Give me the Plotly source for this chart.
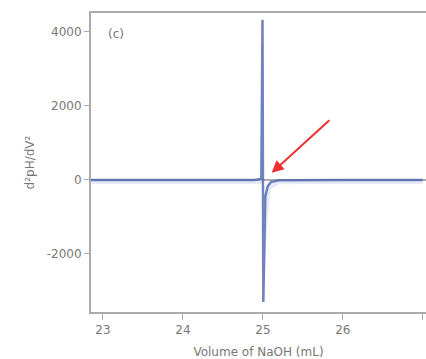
import plotly.graph_objects as go

# data
volume = [22.85, 23.0, 23.5, 24.0, 24.5, 24.9, 24.98, 24.995, 25.005, 25.03, 25.06, 25.1, 25.2, 25.5, 26.0, 26.5, 27.0]
d2 = [0, 0, 0, 0, 0, 0, 30, 4330, -3300, -450, -170, -60, -10, 0, 0, 0, 0]
band_low = [-110, -110, -110, -110, -110, -110, -110, -110, -3300, -2200, -1000, -250, -120, -110, -110, -110, -110]

x_ticks = [23, 24, 25, 26, 27]
y_ticks = [-2000, 0, 2000, 4000]
y_tick_text = ["-2000", "0", "2000", "4000"]

fig = go.Figure()
fig.add_trace(go.Scatter(x=volume, y=d2, mode="lines", line=dict(color="rgba(0,0,0,0)", width=0),
                         showlegend=False, hoverinfo="skip"))
fig.add_trace(go.Scatter(x=volume, y=band_low, mode="lines", line=dict(color="rgba(0,0,0,0)", width=0),
                         fill="tonexty", fillcolor="rgba(200,210,240,0.45)", showlegend=False, hoverinfo="skip"))
fig.add_trace(go.Scatter(x=volume, y=d2, mode="lines",
                         line=dict(color="rgba(80,100,175,0.8)", width=2.5), showlegend=False))

fig.add_annotation(x=25.11, y=190, ax=25.85, ay=1650, xref="x", yref="y", axref="x", ayref="y",
                   showarrow=True, arrowhead=2, arrowsize=1.2, arrowwidth=2, arrowcolor="#f03030", text="")
fig.add_annotation(x=0.045, y=0.96, xref="paper", yref="paper", text="(c)", showarrow=False,
                   font=dict(size=12, color="#777777"))

fig.update_layout(
    width=426, height=359,
    margin=dict(l=91, r=0, t=13, b=47, autoexpand=False),
    plot_bgcolor="white", paper_bgcolor="white",
    font=dict(family="DejaVu Sans", size=12, color="#777777"),
)
fig.update_xaxes(range=[22.85, 27.04], tickvals=x_ticks, ticks="outside", ticklen=6, tickcolor="#aaaaaa",
                 automargin=False, tickfont=dict(size=12),
                 showline=True, linecolor="#aaaaaa", linewidth=2, mirror=True, showgrid=False, zeroline=False,
                 title=dict(text="Volume of NaOH (mL)", font=dict(size=12, color="#777777"), standoff=11))
fig.update_yaxes(range=[-3570, 4510], tickvals=y_ticks, ticktext=y_tick_text, ticks="outside", ticklen=5,
                 tickcolor="#aaaaaa", automargin=False, tickfont=dict(size=12),
                 showline=True, linecolor="#aaaaaa", linewidth=2, showgrid=False,
                 zeroline=True, zerolinecolor="#aaaaaa", zerolinewidth=2,
                 title=dict(text="d²pH/dV²", font=dict(size=12, color="#777777"), standoff=10))

fig.write_html("out.html", config={"displayModeBar": False},
               post_script="document.body.style.margin='0';document.body.style.overflow='hidden';")
